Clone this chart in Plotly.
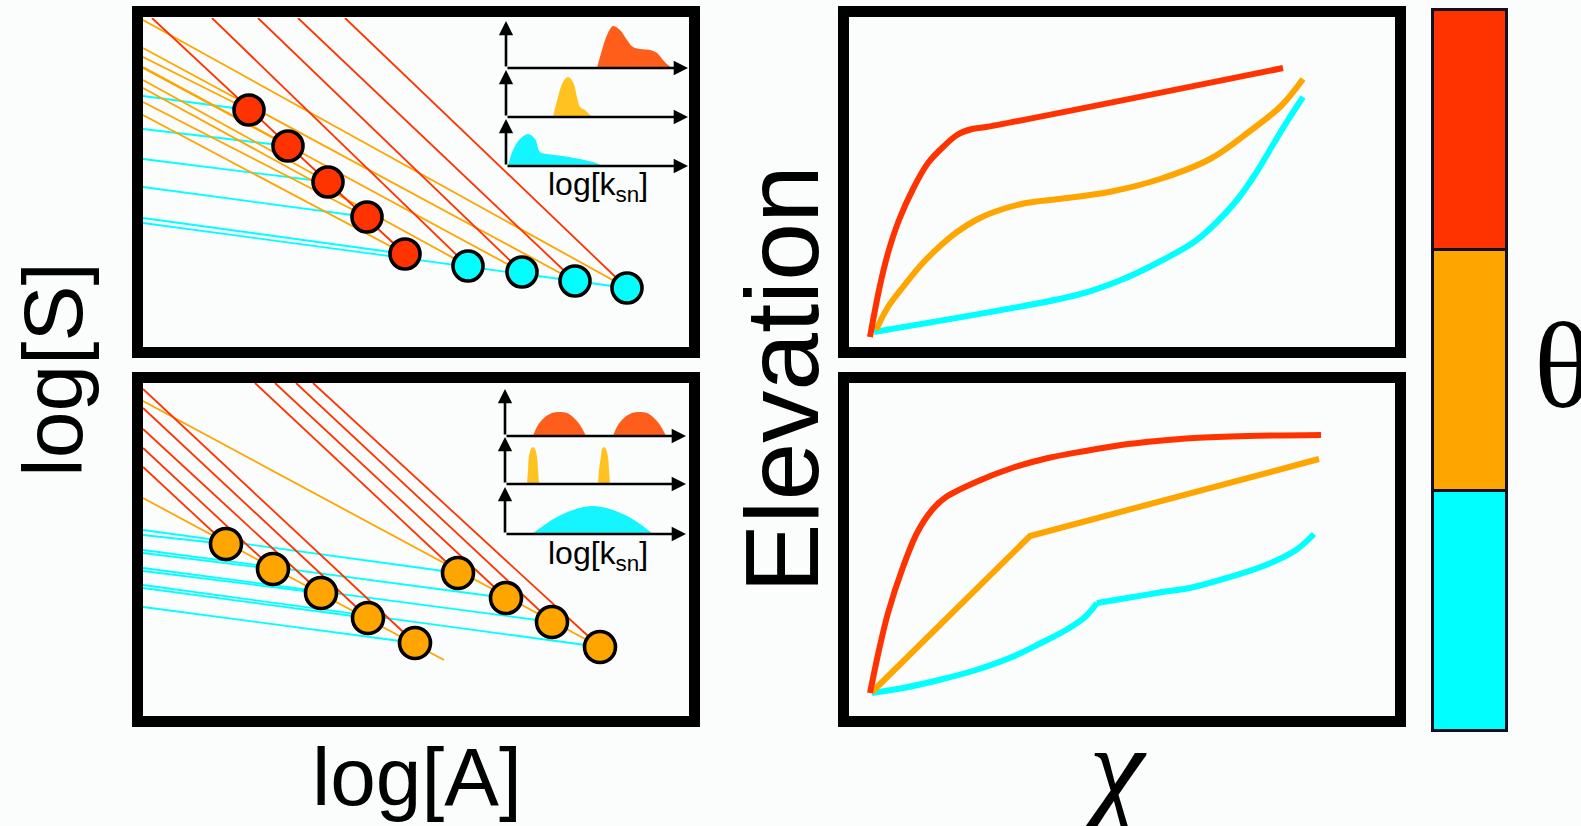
import plotly.graph_objects as go

W, H = 1581, 826
BG = "#fbfcfc"
RED = "#ff3300"
ORANGE = "#ffa500"
CYAN = "#00ffff"
INSET_RED = "#ff5e1a"
INSET_YEL = "#ffc21f"
INSET_CYAN = "#14f5ff"

# ---------------- data: top-left slope-area panel (log A, log S) ----------------
tl_red_pts_x = [10.6, 14.5, 18.5, 22.4, 26.2]
tl_red_pts_y = [23.7, 20.1, 16.5, 13.0, 9.3]
tl_cyan_pts_x = [32.5, 37.9, 43.2, 48.4]
tl_cyan_pts_y = [8.1, 7.5, 6.6, 5.9]

tl_red_x0 = [0.9, 6.9, 11.5, 15.5, 20.2]
tl_red_y0 = [32.9, 32.9, 32.9, 32.9, 32.9]
tl_red_x1 = [26.2, 32.5, 37.9, 43.2, 48.4]
tl_red_y1 = [9.3, 8.1, 7.5, 6.6, 5.9]

tl_org_x0 = [0, 0, 0, 0, 0, 0, 0, 0, 0]
tl_org_y0 = [32.7, 29.9, 29.0, 28.0, 27.9, 26.7, 25.9, 24.5, 23.2]
tl_org_x1 = [48.4, 43.2, 10.6, 37.9, 14.5, 18.5, 32.5, 22.4, 26.2]
tl_org_y1 = [5.9, 6.6, 23.7, 7.5, 20.1, 16.5, 8.1, 13.0, 9.3]

tl_cya_x0 = [0, 0, 0, 0, 0, 0]
tl_cya_y0 = [25.1, 21.8, 18.8, 16.0, 12.9, 12.4]
tl_cya_x1 = [10.6, 14.5, 18.5, 22.4, 26.2, 48.4]
tl_cya_y1 = [23.7, 20.1, 16.5, 13.0, 9.3, 5.9]

# ---------------- data: bottom-left slope-area panel ----------------
bl_pts_x = [8.3, 13.0, 17.8, 22.5, 27.2, 31.5, 36.3, 40.9, 45.7]
bl_pts_y = [17.2, 14.7, 12.3, 9.8, 7.3, 14.3, 11.8, 9.4, 6.9]

bl_red_x0 = [0, 0, 0, 0, 0, 11.2, 13.2, 15.3, 17.0]
bl_red_y0 = [24.9, 26.8, 28.7, 30.8, 32.7, 33.3, 33.3, 33.3, 33.3]
bl_red_x1 = [8.3, 13.0, 17.8, 22.5, 27.2, 31.5, 36.3, 40.9, 45.7]
bl_red_y1 = [17.2, 14.7, 12.3, 9.8, 7.3, 14.3, 11.8, 9.4, 6.9]

bl_org_x0 = [0, 0]
bl_org_y0 = [21.8, 31.5]
bl_org_x1 = [30.1, 45.7]
bl_org_y1 = [5.6, 6.9]

bl_cya_x0 = [0, 0, 0, 0, 0, 0, 0, 0, 0]
bl_cya_y0 = [18.1, 16.3, 14.5, 12.8, 10.9, 18.6, 16.6, 14.8, 13.1]
bl_cya_x1 = [8.3, 13.0, 17.8, 22.5, 27.2, 31.5, 36.3, 40.9, 45.7]
bl_cya_y1 = [17.2, 14.7, 12.3, 9.8, 7.3, 14.3, 11.8, 9.4, 6.9]

# ---------------- data: k_sn distributions (insets) ----------------
tl_in_red_x = [9.1, 9.6, 10.1, 10.7, 11.4, 12.1, 12.7, 13.4, 14.4, 15.1, 15.7, 16.2, 16.6]
tl_in_red_y = [0, 1.8, 3.3, 4.2, 3.8, 2.8, 2.1, 1.9, 1.8, 1.5, 0.8, 0.3, 0]
tl_in_yel_x = [4.7, 5.2, 5.7, 6.2, 6.7, 7.1, 7.4, 7.9, 8.3, 8.6]
tl_in_yel_y = [0, 2.0, 3.5, 4.0, 3.5, 2.0, 1.0, 0.7, 0.3, 0]
tl_in_cya_x = [0.2, 0.7, 1.4, 2.2, 2.9, 3.4, 4.1, 5.7, 7.4, 8.7, 9.7]
tl_in_cya_y = [0, 1.6, 2.7, 3.2, 2.7, 1.4, 1.2, 1.0, 0.7, 0.4, 0]

bl_in_red1_x = [2.8, 3.3, 4.0, 4.7, 5.4, 6.2, 6.8, 7.5, 8.1]
bl_in_red2_x = [10.8, 11.3, 12.0, 12.7, 13.4, 14.2, 14.8, 15.5, 16.1]
bl_in_red_y = [0, 1.1, 1.9, 2.3, 2.4, 2.3, 1.9, 1.1, 0]
bl_in_yel1_x = [2.2, 2.3, 2.4, 2.6, 2.8, 3.0, 3.2, 3.3, 3.4]
bl_in_yel2_x = [9.3, 9.4, 9.6, 9.7, 9.9, 10.1, 10.3, 10.4, 10.5]
bl_in_yel_y = [0, 1.4, 2.8, 3.5, 3.7, 3.5, 2.7, 1.4, 0]
bl_in_cya_x = [2.7, 3.8, 5.2, 6.8, 8.7, 10.5, 12.2, 13.5, 14.8]
bl_in_cya_y = [0, 0.8, 1.7, 2.4, 2.8, 2.5, 1.8, 1.0, 0]

# ---------------- data: chi plots (chi, elevation) ----------------
tr_red_x = [2.0, 2.9, 3.8, 4.9, 6.4, 7.8, 9.3, 10.7, 12.2, 13.6, 43.3]
tr_red_y = [1.0, 5.7, 9.4, 12.7, 16.0, 18.4, 20.0, 21.2, 21.8, 22.0, 27.9]
tr_org_x = [2.6, 3.8, 5.3, 7.1, 8.9, 10.7, 12.6, 14.4, 17.6, 20.9, 25.9, 31.0, 36.0,
            40.0, 43.1, 45.3]
tr_org_y = [1.7, 4.0, 6.0, 8.2, 10.0, 11.5, 12.7, 13.5, 14.4, 14.8, 15.5, 16.8, 18.8,
            21.6, 24.1, 26.8]
tr_cya_x = [2.4, 22.7, 27.1, 30.7, 34.4, 36.6, 38.7, 40.6, 42.4, 43.8, 45.3]
tr_cya_y = [1.5, 5.2, 6.7, 8.4, 10.5, 12.4, 14.7, 17.4, 20.4, 22.7, 25.0]

br_red_x = [2.0, 2.9, 3.8, 5.3, 6.7, 8.2, 9.6, 12.6, 16.2, 19.8, 23.5, 27.1, 30.7,
            34.4, 39.8, 47.1]
br_red_y = [2.3, 6.6, 10.3, 14.9, 18.3, 20.6, 21.9, 23.4, 24.8, 25.8, 26.5, 27.1,
            27.5, 27.8, 28.0, 28.1]
br_org_x = [2.2, 18.0, 46.9]
br_org_y = [2.4, 18.0, 25.7]
# cyan: lower reach up to the knee, then the upper reach
br_cya_low_x = [2.2, 5.3, 8.9, 12.6, 16.2, 19.1, 21.6, 23.5, 24.7]
br_cya_low_y = [2.3, 2.8, 3.6, 4.6, 5.9, 7.3, 8.6, 9.9, 11.3]
br_cya_up_x = [24.7, 27.1, 30.7, 34.4, 38.0, 41.6, 44.6, 46.4]
br_cya_up_y = [11.3, 11.7, 12.3, 12.9, 13.9, 15.1, 16.6, 18.2]

# ---------------- data: theta colour bar ----------------
theta_classes = ["low", "medium", "high"]
theta_counts = [1, 1, 1]
theta_colors = [CYAN, ORANGE, RED]

# ---------------- helpers (layout geometry in screen pixels) ----------------
def dom_x(a, b):
    return [a / W, b / W]

def dom_y(top, bottom):
    return [1 - bottom / H, 1 - top / H]

def segs(x0, y0, x1, y1):
    xs, ys = [], []
    for a, b, c, d in zip(x0, y0, x1, y1):
        xs += [a, c, None]
        ys += [b, d, None]
    return xs, ys

fig = go.Figure()
layout_axes = {}
ax_count = [0]

def new_axes(xd, yd, xr, yr):
    ax_count[0] += 1
    n = ax_count[0]
    sx = "" if n == 1 else str(n)
    layout_axes["xaxis" + sx] = dict(domain=xd, range=xr, visible=False, fixedrange=True,
                                     anchor="y" + sx)
    layout_axes["yaxis" + sx] = dict(domain=yd, range=yr, visible=False, fixedrange=True,
                                     anchor="x" + sx)
    return "x" + sx, "y" + sx

# panel inner pixel boxes (left, top, right, bottom)
panels = {
    "tl": (143, 18, 689, 347),
    "bl": (143, 383, 689, 716),
    "tr": (850, 18, 1395, 347),
    "br": (850, 383, 1395, 716),
}
ax = {}
for k, (l, t, r, b) in panels.items():
    ax[k] = new_axes(dom_x(l, r), dom_y(t, b), [0, (r - l) / 10], [0, (b - t) / 10])

LW = 1.8

def add_lines(axs, xs, ys, color, width=LW, shape="linear", smoothing=1.0):
    line = dict(color=color, width=width, shape=shape)
    if shape == "spline":
        line["smoothing"] = smoothing
    fig.add_trace(go.Scatter(x=xs, y=ys, mode="lines", xaxis=axs[0], yaxis=axs[1],
                             line=line, hoverinfo="skip", showlegend=False))

def add_pts(axs, xs, ys, color, size):
    fig.add_trace(go.Scatter(x=xs, y=ys, mode="markers", xaxis=axs[0], yaxis=axs[1],
                             marker=dict(color=color, size=size,
                                         line=dict(color="black", width=3.6)),
                             hoverinfo="skip", showlegend=False, cliponaxis=False))

# top-left
add_lines(ax["tl"], *segs(tl_cya_x0, tl_cya_y0, tl_cya_x1, tl_cya_y1), CYAN)
add_lines(ax["tl"], *segs(tl_org_x0, tl_org_y0, tl_org_x1, tl_org_y1), ORANGE)
add_lines(ax["tl"], *segs(tl_red_x0, tl_red_y0, tl_red_x1, tl_red_y1), RED)
add_pts(ax["tl"], tl_red_pts_x, tl_red_pts_y, RED, 30)
add_pts(ax["tl"], tl_cyan_pts_x, tl_cyan_pts_y, CYAN, 30)

# bottom-left
add_lines(ax["bl"], *segs(bl_cya_x0, bl_cya_y0, bl_cya_x1, bl_cya_y1), CYAN)
add_lines(ax["bl"], *segs(bl_org_x0, bl_org_y0, bl_org_x1, bl_org_y1), ORANGE)
add_lines(ax["bl"], *segs(bl_red_x0, bl_red_y0, bl_red_x1, bl_red_y1), RED)
add_pts(ax["bl"], bl_pts_x, bl_pts_y, ORANGE, 31)

# chi plots
CW = 6
add_lines(ax["tr"], tr_cya_x, tr_cya_y, CYAN, CW, "spline", 0.8)
add_lines(ax["tr"], tr_org_x, tr_org_y, ORANGE, CW, "spline", 1.0)
add_lines(ax["tr"], tr_red_x, tr_red_y, RED, CW, "spline", 0.9)
add_lines(ax["br"], br_cya_low_x, br_cya_low_y, CYAN, CW, "spline", 1.0)
add_lines(ax["br"], br_cya_up_x, br_cya_up_y, CYAN, CW, "spline", 1.0)
add_lines(ax["br"], br_org_x, br_org_y, ORANGE, CW, "linear")
add_lines(ax["br"], br_red_x, br_red_y, RED, CW, "spline", 0.9)

# insets
ROW_H = 47
annotations = []

def arrow(hx, hy, tx, ty):
    annotations.append(dict(x=hx / W, y=1 - hy / H, xref="paper", yref="paper",
                            ax=tx - hx, ay=ty - hy, axref="pixel", ayref="pixel",
                            text="", showarrow=True, arrowhead=2, arrowsize=1.1,
                            arrowwidth=2.6, arrowcolor="black", standoff=0,
                            startstandoff=0))

def inset_row(x_left, x_right, base, shapes_list, color):
    axs = new_axes(dom_x(x_left, x_right), dom_y(base - ROW_H, base),
                   [0, (x_right - x_left) / 10], [0, ROW_H / 10])
    for xs, ys in shapes_list:
        fig.add_trace(go.Scatter(x=xs, y=ys, mode="lines", fill="toself",
                                 fillcolor=color, line=dict(width=0, color=color,
                                                            shape="spline"),
                                 xaxis=axs[0], yaxis=axs[1], hoverinfo="skip",
                                 showlegend=False))
    arrow(x_left, base - ROW_H, x_left, base)
    arrow(x_right, base, x_left, base)

inset_row(506, 688, 68, [(tl_in_red_x, tl_in_red_y)], INSET_RED)
inset_row(506, 688, 117, [(tl_in_yel_x, tl_in_yel_y)], INSET_YEL)
inset_row(506, 688, 166, [(tl_in_cya_x, tl_in_cya_y)], INSET_CYAN)
inset_row(505, 686, 436, [(bl_in_red1_x, bl_in_red_y), (bl_in_red2_x, bl_in_red_y)], INSET_RED)
inset_row(505, 686, 484, [(bl_in_yel1_x, bl_in_yel_y), (bl_in_yel2_x, bl_in_yel_y)], INSET_YEL)
inset_row(505, 686, 534, [(bl_in_cya_x, bl_in_cya_y)], INSET_CYAN)

# colour bar (stacked bars)
cb_l, cb_r, cb_t, cb_b, pad = 1433, 1507, 10, 731, 4
ux = (cb_r - cb_l)
uy = (cb_b - cb_t) / 3
cbx, cby = new_axes(dom_x(cb_l - pad, cb_r + pad), dom_y(cb_t - pad, cb_b + pad),
                    [-0.5 - pad / ux, 0.5 + pad / ux], [-pad / uy, 3 + pad / uy])
for name, cnt, col in zip(theta_classes, theta_counts, theta_colors):
    fig.add_trace(go.Bar(x=[0], y=[cnt], width=1, name=name, xaxis=cbx, yaxis=cby,
                         marker=dict(color=col, line=dict(color="#10101e", width=3.5)),
                         hoverinfo="skip", showlegend=False))

# frames
shapes = []
frames = [(132, 6, 700, 358), (132, 372, 700, 727), (838, 6, 1406, 358), (838, 372, 1406, 727)]
FW = 11
for l, t, r, b in frames:
    h = FW / 2
    shapes.append(dict(type="rect", xref="paper", yref="paper",
                       x0=(l + h) / W, x1=(r - h) / W, y0=1 - (b - h) / H, y1=1 - (t + h) / H,
                       line=dict(color="black", width=FW), layer="above"))

def label(text, x, y, size, angle=0, family="Liberation Sans, Arial, sans-serif"):
    annotations.append(dict(text=text, x=x / W, y=1 - y / H, xref="paper", yref="paper",
                            showarrow=False, textangle=angle, xanchor="center",
                            yanchor="middle", font=dict(size=size, color="black",
                                                        family=family)))

label("log[k<sub>sn</sub>]", 598, 186, 32)
label("log[k<sub>sn</sub>]", 598, 555, 32)
label("log[S]", 53, 370, 84, -90)
label("log[A]", 417, 776, 82)
label("Elevation", 782, 379, 104, -90)
label("<i>χ</i>", 1112, 768, 125, family="Liberation Serif, serif")
label("θ", 1563, 366, 122, family="Liberation Serif, serif")

fig.update_layout(width=W, height=H, margin=dict(l=0, r=0, t=0, b=0), autosize=False,
                  paper_bgcolor=BG, plot_bgcolor=BG, barmode="stack", bargap=0,
                  showlegend=False, shapes=shapes, annotations=annotations, **layout_axes)

fig.write_html("out.html", config={"displayModeBar": False})
